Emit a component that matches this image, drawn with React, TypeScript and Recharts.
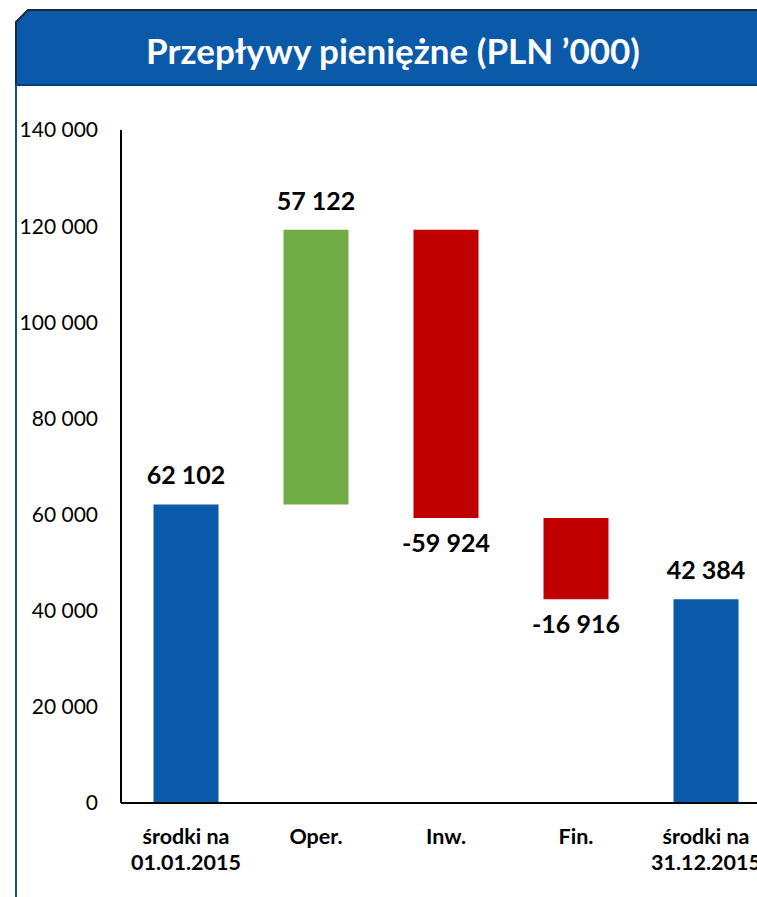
import { BarChart, Bar, XAxis, YAxis, Cell, LabelList } from "recharts"

const categories = ["środki na\n01.01.2015", "Oper.", "Inw.", "Fin.", "środki na\n31.12.2015"]
const values = [62102, 57122, -59924, -16916, 42384]
const kinds = ["total", "delta", "delta", "delta", "total"]
const yTicks = [0, 20000, 40000, 60000, 80000, 100000, 120000, 140000]

const BLUE = "#0B59A9"
const GREEN = "#70AD47"
const RED = "#C00000"
const FONT = "Lato, 'Open Sans', sans-serif"

// split into invisible base + visible part for the waterfall
let running = 0
const rows = categories.map((name, i) => {
  const v = values[i]
  if (kinds[i] === "total") {
    running = v
    return { name, base: 0, size: v, value: v, kind: "total" }
  }
  const start = running
  const end = running + v
  running = end
  return { name, base: Math.min(start, end), size: Math.abs(v), value: v, kind: "delta" }
})

const fmt = (n: number) => {
  const s = String(Math.abs(n)).replace(/\B(?=(\d{3})+(?!\d))/g, " ")
  return n < 0 ? "-" + s : s
}

function CategoryTick({ x, y, payload }: any) {
  const lines = String(payload.value).split("\n")
  return (
    <text x={x} y={y} textAnchor="middle" fontFamily={FONT} fontSize={21.5} fontWeight={700} fill="#000">
      {lines.map((l, i) => (
        <tspan key={i} x={x} dy={i === 0 ? 33 : 26}>
          {l}
        </tspan>
      ))}
    </text>
  )
}

function ValueLabel(props: any) {
  const { x, y, width, height, index } = props
  const v = values[index]
  const cx = x + width / 2
  const ty = v < 0 ? y + height + 34 : y - 20
  return (
    <text x={cx} y={ty} textAnchor="middle" fontFamily={FONT} fontSize={25} fontWeight={700} fill="#000">
      {fmt(v)}
    </text>
  )
}

export default function App() {
  return (
    <div style={{ position: "absolute", left: 0, top: 0, width: 757, height: 897, overflow: "hidden", background: "#fff" }}>
      <svg width={757} height={897} style={{ position: "absolute", left: 0, top: 0 }}>
        <path d="M16,897 L16,22 L28,10 L780,10 L780,85 L16,85 Z" fill={BLUE} />
        <path d="M16,897 L16,22 L28,10 L780,10" fill="none" stroke="#1B2A3A" strokeWidth={2} />
        <line x1={16} y1={85} x2={780} y2={85} stroke="#0A3F78" strokeWidth={2} />
        <line x1={16} y1={85} x2={16} y2={897} stroke="#1F4E79" strokeWidth={2} />
        <text x={393} y={64} textAnchor="middle" fontFamily={FONT} fontSize={35} fontWeight={700} fill="#fff">
          Przepływy pieniężne (PLN ’000)
        </text>
      </svg>
      <div style={{ position: "absolute", left: 0, top: 0 }}>
        <BarChart width={800} height={897} data={rows} margin={{ top: 130, right: 29, bottom: 0, left: 0 }} barCategoryGap="25%">
          <XAxis
            dataKey="name"
            axisLine={{ stroke: "#000", strokeWidth: 2 }}
            tickLine={false}
            height={94}
            interval={0}
            tick={<CategoryTick />}
          />
          <YAxis
            domain={[0, 140000]}
            ticks={yTicks}
            width={121}
            axisLine={{ stroke: "#000", strokeWidth: 2 }}
            tickLine={false}
            tickMargin={17}
            tickFormatter={fmt}
            tick={{ fontFamily: FONT, fontSize: 21, fill: "#000" }}
          />
          <Bar dataKey="base" stackId="w" fill="transparent" isAnimationActive={false} />
          <Bar dataKey="size" stackId="w" isAnimationActive={false}>
            {rows.map((r, i) => (
              <Cell key={`cell-${i}`} fill={r.kind === "total" ? BLUE : r.value >= 0 ? GREEN : RED} />
            ))}
            <LabelList dataKey="size" content={<ValueLabel />} />
          </Bar>
        </BarChart>
      </div>
    </div>
  )
}
